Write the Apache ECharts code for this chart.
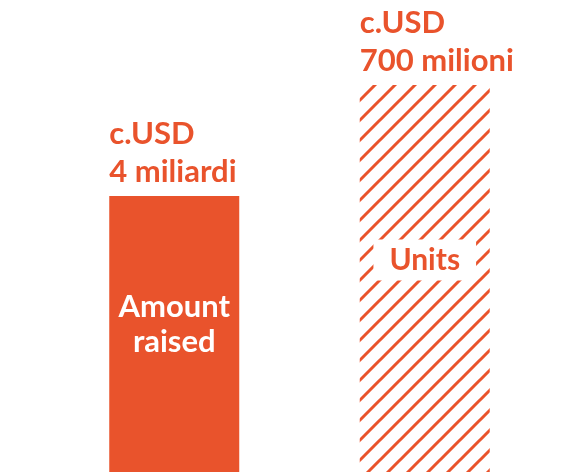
<!DOCTYPE html>
<html>
<head>
<meta charset="utf-8">
<script src="https://cdn.jsdelivr.net/npm/echarts@6/dist/echarts.min.js"></script>
<style>
  html, body { margin: 0; padding: 0; background: #fff; }
  #chart { width: 579px; height: 472px; }
</style>
</head>
<body>
<div id="chart"></div>
<script>
const categories = ['Amount raised', 'Units']
const values = [58.5, 82]
const valueLabels = ['c.USD\n4 miliardi', 'c.USD\n700 milioni']

const orange = '#E9532C'

function makeHatch() {
  const size = 20
  const c = document.createElement('canvas')
  c.width = size
  c.height = size
  const ctx = c.getContext('2d')
  ctx.strokeStyle = orange
  ctx.lineWidth = 3
  ctx.beginPath()
  ctx.moveTo(-size, size * 2)
  ctx.lineTo(size * 2, -size)
  ctx.moveTo(-size, size)
  ctx.lineTo(size, -size)
  ctx.moveTo(0, size * 2)
  ctx.lineTo(size * 2, 0)
  ctx.stroke()
  return c
}

const chart = echarts.init(document.getElementById('chart'), null, { renderer: 'canvas' })

const fontFamily = 'Lato, "Open Sans", sans-serif'

chart.setOption({
  backgroundColor: '#fff',
  animation: false,
  grid: { left: 49, right: 29, top: 0, bottom: 0 },
  xAxis: {
    type: 'category',
    data: categories,
    show: false
  },
  yAxis: {
    type: 'value',
    min: 0,
    max: 100,
    show: false
  },
  series: [
    {
      type: 'bar',
      barWidth: 130,
      data: [
        {
          value: values[0],
          itemStyle: { color: orange },
          label: {
            position: [65, 129],
            color: '#fff',
            fontSize: 31
          }
        },
        {
          value: values[1],
          itemStyle: { color: { image: makeHatch(), repeat: 'repeat' } },
          label: {
            position: [65, 175],
            color: orange,
            fontSize: 30,
            backgroundColor: '#fff',
            padding: [4, 16, 2, 16]
          }
        }
      ],
      label: {
        show: true,
        formatter: p => p.name.replace(' ', '\n'),
        align: 'center',
        verticalAlign: 'middle',
        fontFamily: fontFamily,
        fontWeight: 'bold',
        lineHeight: 35
      }
    },
    {
      type: 'bar',
      barWidth: 130,
      barGap: '-100%',
      silent: true,
      itemStyle: { color: 'transparent' },
      data: values,
      label: {
        show: true,
        position: [0, -5],
        align: 'left',
        verticalAlign: 'bottom',
        formatter: p => valueLabels[p.dataIndex],
        color: orange,
        fontFamily: fontFamily,
        fontWeight: 'bold',
        fontSize: 31,
        lineHeight: 38
      }
    }
  ]
})
</script>
</body>
</html>
